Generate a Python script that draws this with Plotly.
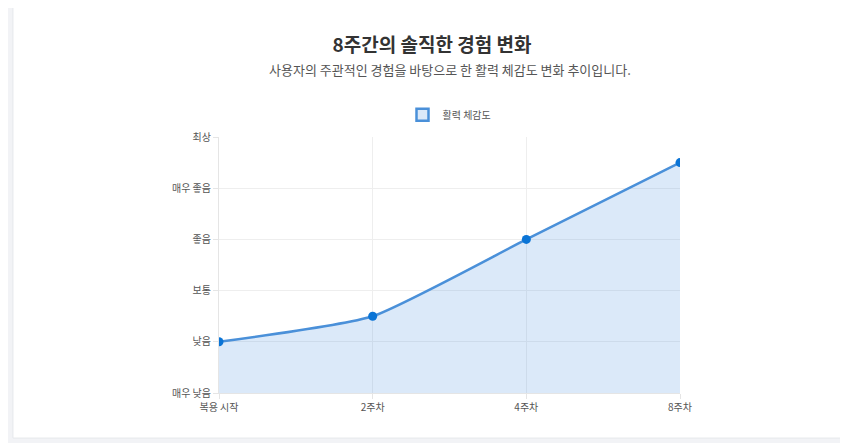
import plotly.graph_objects as go

weeks = ['복용 시작', '2주차', '4주차', '8주차']
energy = [1, 1.5, 3, 4.5]
level_labels = ['매우 낮음', '낮음', '보통', '좋음', '매우 좋음', '최상']

W, H = 848, 443
font = 'Noto Sans CJK KR'

fig = go.Figure()
fig.add_trace(go.Scatter(
    x=list(range(len(weeks))), y=energy, name='활력 체감도', showlegend=False,
    mode='lines+markers', fill='tozeroy', fillcolor='rgba(74,144,226,0.2)',
    line=dict(color='#4a90d9', width=2.5, shape='spline', smoothing=0.5),
    marker=dict(color='#0a74d6', size=9),
))
# legend-only box swatch
fig.add_trace(go.Bar(
    x=[None], y=[None], name='활력 체감도',
    marker=dict(color='rgba(74,144,226,0.2)', line=dict(color='#4a90d9', width=2.5)),
))

# white card behind the chart
fig.add_shape(type='rect', xref='paper', yref='paper', x0=-0.447, x1=1.371, y0=-0.176, y1=1.523,
              fillcolor='white', line=dict(color='#e6e8ec', width=1), layer='below')

fig.update_layout(
    width=W, height=H, paper_bgcolor='#f2f3f6', plot_bgcolor='white',
    margin=dict(l=211, r=176, t=129, b=58),
    font=dict(family=font, size=10, color='#555'),
    title=dict(text='<b>8주간의 솔직한 경험 변화</b>', x=0.5, y=0.93, xanchor='center',
               font=dict(size=19, color='#333', family=font)),
    legend=dict(orientation='h', x=0.5, xanchor='center', y=1.03, yanchor='bottom',
                bgcolor='rgba(0,0,0,0)', font=dict(size=10, color='#555')),
    showlegend=True,
)
fig.add_annotation(text='사용자의 주관적인 경험을 바탕으로 한 활력 체감도 변화 추이입니다.',
                   xref='paper', yref='paper', x=0.5, y=1.31, showarrow=False,
                   font=dict(size=13, color='#555'))
fig.update_xaxes(tickvals=list(range(len(weeks))), ticktext=weeks, range=[0, 3],
                 showgrid=True, gridcolor='#eeeeee', zeroline=False, ticks='outside',
                 tickcolor='#e5e5e5', ticklen=5, showline=True, linecolor='#e5e5e5')
fig.update_yaxes(tickvals=list(range(len(level_labels))), ticktext=level_labels, range=[0, 5],
                 showgrid=True, gridcolor='#eeeeee', zeroline=False, ticks='outside',
                 tickcolor='#e5e5e5', ticklen=5, showline=True, linecolor='#e5e5e5')

fig.write_html('out.html')
